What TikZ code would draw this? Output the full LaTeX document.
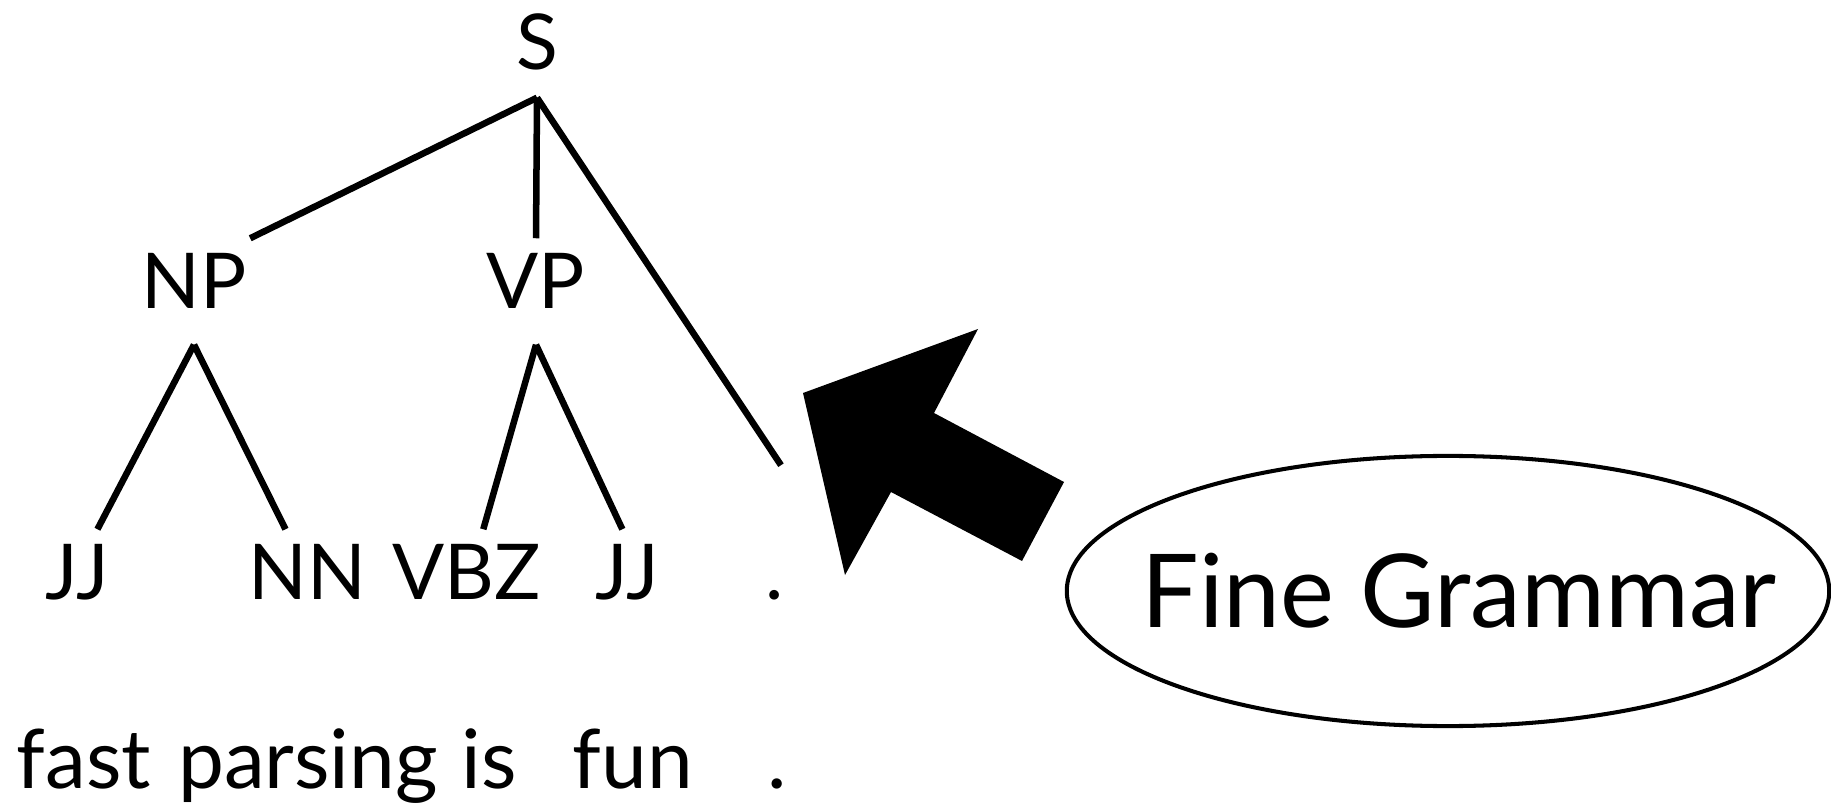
\documentclass[tikz,border=0pt]{standalone}
\usepackage{fontspec}
\setmainfont{Lato}
\usepackage{tikz}
\usetikzlibrary{shapes.geometric}

\begin{document}
\begin{tikzpicture}[x=0.01cm,y=0.01cm,
  cat/.style={anchor=base,font=\fontsize{21.9pt}{26pt}\selectfont,
    text height=0.55cm,text depth=0.2cm,inner xsep=0.03cm,inner ysep=0.15cm},
  palabra/.style={anchor=base,font=\fontsize{23.3pt}{28pt}\selectfont,inner sep=0pt},
  rama/.style={line width=1.85pt}]
  \useasboundingbox (0,0) rectangle (1831,809);
  \node[cat,text depth=0.12cm] (S) at (537,739) {S};
  \node[cat] (NP) at (194,500) {NP};
  \node[cat] (VP) at (536,500) {VP};
  \node[cat] (jj1) at (77,209)  {JJ};
  \node[cat] (nn)  at (307,209) {NN};
  \node[cat] (vbz) at (467,209) {VBZ};
  \node[cat] (jj2) at (627,209) {JJ};
  \node[cat] (pt)  at (775,209) {.};
  \node[palabra] (w1) at (84,21)  {fast};
  \node[palabra] (w2) at (308,21) {parsing};
  \node[palabra] (w3) at (489,21) {is};
  \node[palabra] (w4) at (633,21) {fun};
  \node[palabra] (w5) at (777,21) {.};
  \draw[rama] (S.south) -- (NP.north east);
  \draw[rama] (S.south) -- (VP.north);
  \draw[rama] (S.south) -- ([xshift=0.06cm,yshift=0.64cm]pt.north);
  \draw[rama] (NP.south) -- (jj1.69);
  \draw[rama] (NP.south) -- (nn.112);
  \draw[rama] (VP.south) -- (vbz.73);
  \draw[rama] (VP.south) -- (jj2.95);
  \node[draw,line width=1.15pt,ellipse,minimum width=7.62cm,minimum height=2.7cm,
    inner sep=0pt,label={[font=\fontsize{29pt}{34pt}\selectfont,xshift=0.11cm]center:Fine Grammar}]
    (fg) at (1448,218) {};
  \fill (803,416) -- (978,480) -- (934,396) -- (1064,327) -- (1022,248)
    -- (891,317) -- (845,234) -- cycle;
\end{tikzpicture}
\end{document}
